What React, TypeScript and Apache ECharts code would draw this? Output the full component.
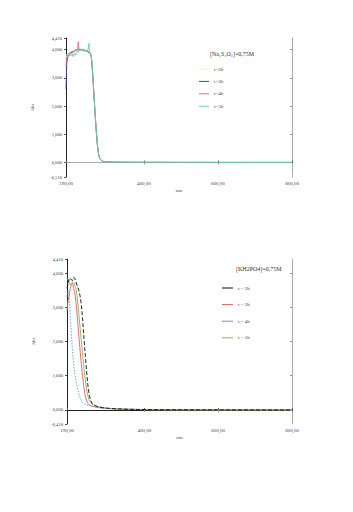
import React, { useEffect, useRef } from "react";
import * as echarts from "echarts";

// ---- data ----
const wlTop = [190,192,194,197,200,203,206,209,212,215,218,221,223,225,228,231,234,237,240,243,246,249,252,254,256,258,260,262,264,266,268,270,272,274,276,278,280,283,286,290,295,300,320,350,400,500,600,700,800];
const na2h = [3.70,3.78,3.82,3.85,3.88,3.86,3.92,3.90,3.95,3.97,3.96,4.00,4.02,3.99,4.01,4.00,3.98,4.00,3.97,3.95,3.96,3.93,3.92,3.90,3.87,3.78,3.55,3.15,2.72,2.28,1.85,1.45,1.08,0.74,0.48,0.30,0.19,0.11,0.07,0.04,0.025,0.02,0.015,0.012,0.01,0.008,0.006,0.005,0.005];
const na3h = [2.60,3.50,3.72,3.80,3.84,3.90,3.88,3.94,3.93,3.98,4.00,3.98,4.01,4.02,3.99,4.01,3.99,3.97,3.98,3.94,3.95,3.92,3.90,3.89,3.85,3.76,3.52,3.12,2.70,2.26,1.83,1.44,1.07,0.73,0.47,0.29,0.19,0.11,0.07,0.04,0.025,0.02,0.014,0.011,0.009,0.007,0.006,0.005,0.005];
const na4h = [3.40,3.72,3.80,3.86,3.90,3.88,3.95,3.92,3.96,4.00,3.98,4.03,4.28,4.00,4.02,3.99,4.01,3.98,3.99,3.96,3.94,3.95,3.91,3.88,3.86,3.77,3.54,3.14,2.71,2.27,1.84,1.45,1.08,0.74,0.48,0.30,0.19,0.11,0.07,0.04,0.025,0.02,0.015,0.012,0.01,0.008,0.007,0.006,0.005];
const na5h = [3.85,3.80,3.76,3.74,3.82,3.78,3.86,3.75,3.88,3.80,3.92,3.96,3.90,4.00,3.95,4.02,3.97,4.00,3.96,3.98,3.93,3.96,4.22,3.92,3.86,3.79,3.56,3.16,2.73,2.29,1.86,1.46,1.09,0.75,0.49,0.31,0.20,0.12,0.075,0.045,0.03,0.022,0.016,0.013,0.01,0.008,0.007,0.006,0.006];

const wlBot = [190,193,196,199,202,205,208,211,214,217,220,223,226,229,232,235,238,241,244,247,250,254,258,262,266,270,275,280,290,300,320,350,400,450,500,600,700,800];
const kh2h = [3.55,3.70,3.82,3.86,3.80,3.78,3.88,3.85,3.75,3.65,3.56,3.45,3.30,3.05,2.70,2.25,1.80,1.40,1.02,0.68,0.45,0.28,0.19,0.15,0.13,0.11,0.09,0.08,0.06,0.05,0.035,0.022,0.012,0.008,0.006,0.004,0.003,0.002];
const kh3h = [2.90,3.20,3.35,3.55,3.68,3.70,3.55,3.42,3.20,2.85,2.45,2.05,1.68,1.32,1.00,0.72,0.50,0.35,0.25,0.19,0.15,0.13,0.11,0.10,0.09,0.08,0.07,0.065,0.055,0.045,0.03,0.02,0.01,0.007,0.005,0.004,0.003,0.002];
const kh4h = [3.30,3.50,3.30,2.75,2.20,1.70,1.35,1.08,0.86,0.70,0.56,0.44,0.34,0.27,0.22,0.19,0.17,0.155,0.145,0.135,0.125,0.115,0.105,0.095,0.088,0.08,0.072,0.065,0.055,0.045,0.03,0.02,0.012,0.008,0.006,0.004,0.003,0.002];
const kh5h = [3.85,3.80,3.72,3.65,3.70,3.74,3.72,3.65,3.55,3.35,3.05,2.70,2.35,1.98,1.65,1.32,1.02,0.76,0.55,0.40,0.30,0.22,0.18,0.15,0.13,0.11,0.095,0.085,0.065,0.05,0.035,0.022,0.012,0.008,0.006,0.004,0.003,0.002];

const xTicks = [190, 400, 600, 800];
const yTicksTop = [-0.51, 0, 1, 2, 3, 4, 4.41];
const yTicksBot = [-0.41, 0, 1, 2, 3, 4, 4.41];
const namesTop = ["t=2h", "t=3h", "t=4h", "t=5h"];
const namesBot = ["t = 2h", "t = 3h", "t = 4h", "t = 5h"];
const titleTop = "[Na₂S₂O₃]=0,75M";
const titleBot = "[KH2PO4]=0,75M";

const FONT = "Liberation Serif, Times New Roman, serif";
const TXT = "#444";

const pairs = (xs: number[], ys: number[]) => xs.map((x, i) => [x, ys[i]]);

export default function App() {
  const ref = useRef<HTMLDivElement>(null);
  useEffect(() => {
    if (!ref.current) return;
    const chart = echarts.init(ref.current, undefined, { renderer: "svg" });
    const grids = [
      { left: 66, top: 38, width: 226, height: 139 },
      { left: 67, top: 259, width: 225, height: 165 },
    ];
    const mkX = (gi: number) => [
      {
        type: "value", gridIndex: gi, min: 190, max: 800, position: "bottom",
        name: "nm", nameLocation: "middle", nameGap: 11,
        nameTextStyle: { fontFamily: FONT, fontSize: 5, color: TXT },
        axisLine: { lineStyle: { color: "#222", width: 1 } },
        axisTick: { inside: true, length: 2, customValues: xTicks, lineStyle: { color: "#555" } },
        axisLabel: {
          customValues: xTicks, fontFamily: FONT, fontSize: 5, color: TXT, margin: 4,
          formatter: (v: number) => v.toFixed(2).replace(".", ","),
        },
        splitLine: { show: false },
      },
      {
        type: "value", gridIndex: gi, min: 190, max: 800, position: "top",
        axisLine: { lineStyle: { color: gi === 0 ? "#aaa" : "#222", width: 1 } },
        axisTick: { inside: true, length: 2, customValues: [400, 600], lineStyle: { color: "#999" } },
        axisLabel: { show: false },
        splitLine: { show: false },
      },
    ];
    const mkY = (gi: number, ticks: number[]) => [
      {
        type: "value", gridIndex: gi, min: ticks[0], max: 4.41, position: "left",
        name: "Abs", nameLocation: "middle", nameGap: 31, nameRotate: 90,
        nameTextStyle: { fontFamily: FONT, fontSize: 5, color: TXT },
        axisLine: { show: true, lineStyle: { color: "#222", width: 1 } },
        axisTick: { show: true, length: 2, customValues: ticks, lineStyle: { color: "#555" } },
        axisLabel: {
          customValues: ticks, fontFamily: FONT, fontSize: 4.6, color: TXT, margin: 4,
          formatter: (v: number) => v.toFixed(3).replace(".", ","),
        },
        splitLine: { show: false },
      },
      {
        type: "value", gridIndex: gi, min: ticks[0], max: 4.41, position: "right",
        axisLine: { show: true, lineStyle: { color: "#aaa", width: 1 } },
        axisTick: { show: true, inside: true, length: 2, customValues: [0, 1, 2, 3, 4], lineStyle: { color: "#999" } },
        axisLabel: { show: false },
        splitLine: { show: false },
      },
    ];
    const line = (name: string, xs: number[], ys: number[], color: string, axis: number, type: any = "solid") => ({
      name, type: "line", xAxisIndex: axis, yAxisIndex: axis,
      data: pairs(xs, ys), showSymbol: false, symbol: "none",
      lineStyle: { color, width: 0.9, type }, itemStyle: { color },
    });
    const topColors = ["#f0eec4", "#4a46a0", "#e8707c", "#5fd8a0"];
    const botColors = ["#111111", "#e06060", "#5a9ed8", "#7cb860"];
    const legendCommon = {
      orient: "vertical", icon: "rect", itemHeight: 1, padding: 0,
      textStyle: { fontFamily: FONT, fontSize: 5, color: TXT, lineHeight: 6 },
    };
    chart.setOption({
      animation: false,
      backgroundColor: "#fff",
      title: [
        { text: titleTop, left: 210, top: 51, padding: 0, textStyle: { fontFamily: FONT, fontSize: 6, fontWeight: "normal", color: "#333" } },
        { text: titleBot, left: 236, top: 266, padding: 0, textStyle: { fontFamily: FONT, fontSize: 6, fontWeight: "normal", color: "#333" } },
      ],
      legend: [
        { ...legendCommon, data: namesTop, left: 199, top: 66, itemWidth: 10, itemGap: 6.4 },
        { ...legendCommon, data: namesBot, left: 222, top: 285, itemWidth: 11, itemGap: 10.6 },
      ],
      grid: grids,
      xAxis: [...mkX(0), ...mkX(1)],
      yAxis: [...mkY(0, yTicksTop), ...mkY(1, yTicksBot)],
      series: [
        line(namesTop[0], wlTop, na2h, topColors[0], 0),
        line(namesTop[1], wlTop, na3h, topColors[1], 0),
        line(namesTop[2], wlTop, na4h, topColors[2], 0),
        line(namesTop[3], wlTop, na5h, topColors[3], 0),
        line(namesBot[1], wlBot, kh3h, botColors[1], 2),
        line(namesBot[2], wlBot, kh4h, botColors[2], 2, [1.5, 1.5]),
        line(namesBot[3], wlBot, kh5h, botColors[3], 2),
        line(namesBot[0], wlBot, kh2h, botColors[0], 2, [4, 2]),
      ],
    });
    return () => chart.dispose();
  }, []);
  return (
    <div
      ref={ref}
      style={{ position: "fixed", left: 0, top: 0, width: 353, height: 512, background: "#fff" }}
    />
  );
}
